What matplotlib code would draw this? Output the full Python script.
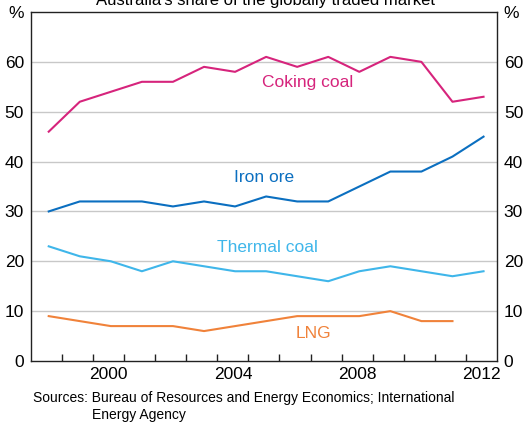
import numpy as np
import matplotlib
matplotlib.use('Agg')
import matplotlib.pyplot as plt

plt.rcParams['font.family'] = ['Liberation Sans', 'DejaVu Sans']

years = np.arange(1998, 2013)
coking_coal = [46, 52, 54, 56, 56, 59, 58, 61, 59, 61, 58, 61, 60, 52, 53]
iron_ore = [30, 32, 32, 32, 31, 32, 31, 33, 32, 32, 35, 38, 38, 41, 45]
thermal_coal = [23, 21, 20, 18, 20, 19, 18, 18, 17, 16, 18, 19, 18, 17, 18]
lng_years = np.arange(1998, 2012)
lng = [9, 8, 7, 7, 7, 6, 7, 8, 9, 9, 9, 10, 8, 8]

label_years = [2000, 2004, 2008, 2012]
y_ticks = [0, 10, 20, 30, 40, 50, 60, 70]
y_labels = ['0', '10', '20', '30', '40', '50', '60', '%']

fig = plt.figure(figsize=(5.32, 4.23), dpi=100)
ax = fig.add_axes([0.0583, 0.1466, 0.8757, 0.825])

# point au milieu de chaque annee
ax.plot(years + 0.57, coking_coal, color='#d6247c', lw=1.5)
ax.plot(years + 0.57, iron_ore, color='#0b6fc0', lw=1.5)
ax.plot(years + 0.57, thermal_coal, color='#3fb6ea', lw=1.5)
ax.plot(lng_years + 0.57, lng, color='#f0823a', lw=1.5)

ax.text(2006.9, 55.8, 'Coking coal', color='#d6247c', fontsize=12.5, ha='center', va='center')
ax.text(2005.5, 36.8, 'Iron ore', color='#0b6fc0', fontsize=12.5, ha='center', va='center')
ax.text(2005.6, 22.8, 'Thermal coal', color='#3fb6ea', fontsize=12.5, ha='center', va='center')
ax.text(2007.1, 5.6, 'LNG', color='#f0823a', fontsize=12.5, ha='center', va='center')

ax.set_xlim(1998, 2013)
ax.set_ylim(0, 70)
for v in range(10, 70, 10):
    ax.axhline(v, color='#c8c8c8', lw=1, zorder=0)

ax.set_xticks(np.arange(1999, 2013))
ax.set_xticklabels([])
ax.tick_params(axis='x', which='major', direction='in', length=5, width=1, color='#222222')
ax.set_xticks([y + 0.5 for y in label_years], minor=True)
ax.set_xticklabels([str(y) for y in label_years], minor=True, fontsize=12.5)
ax.tick_params(axis='x', which='minor', length=0, pad=4)

ax.set_yticks(y_ticks)
ax.set_yticklabels(y_labels, fontsize=12.5)
ax.tick_params(axis='y', length=0, pad=5, labelright=True, right=False)

for s in ax.spines.values():
    s.set_linewidth(1)
    s.set_color('#222222')

fig.text(0.5, 1.0, "Australia's share of the globally traded market", ha='center', va='center', fontsize=12)
fig.text(0.062, 0.059, 'Sources: Bureau of Resources and Energy Economics; International', fontsize=10, va='center')
fig.text(0.173, 0.02, 'Energy Agency', fontsize=10, va='center')

fig.savefig('out.png', dpi=100)
